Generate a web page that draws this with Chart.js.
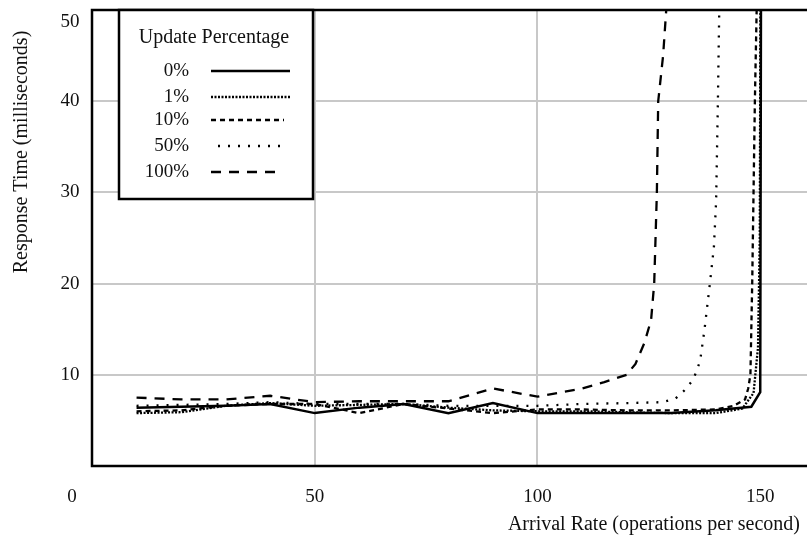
<!DOCTYPE html>
<html lang="en">
<head>
<meta charset="UTF-8">
<title>Response Time vs Arrival Rate</title>
<script src="https://cdn.jsdelivr.net/npm/chart.js"></script>
<style>
    body { margin: 0; background: #fff; }
    #wrap { width: 807px; height: 539px; position: relative; }
</style>
</head>
<body>
<div id="wrap"><canvas id="chart"></canvas></div>
<script>
    // values (x = arrival rate, y = response time)
    const seriesNames = ['0%', '1%', '10%', '50%', '100%'];

    const rate0 = [10, 20, 30, 40, 50, 60, 70, 80, 90, 100, 110, 120, 130, 140, 148, 150, 150.2];
    const resp0 = [6.4, 6.5, 6.6, 6.8, 5.8, 6.4, 6.8, 5.8, 6.9, 5.8, 5.8, 5.8, 5.8, 6.1, 6.5, 8.1, 60];

    const rate1 = [10, 20, 30, 40, 50, 60, 70, 80, 90, 100, 110, 120, 130, 140, 146, 148.5, 149.5, 149.9, 150.1];
    const resp1 = [5.8, 5.9, 6.6, 6.9, 6.6, 6.7, 6.8, 6.4, 6.1, 6.0, 6.0, 5.9, 5.8, 5.8, 6.3, 8, 13, 25, 60];

    const rate10 = [10, 20, 30, 40, 50, 60, 70, 80, 90, 100, 110, 120, 130, 140, 144, 146.6, 147.3, 147.8, 148.2, 148.5, 148.8, 149.2, 149.4];
    const resp10 = [6.0, 6.1, 6.6, 6.8, 6.8, 5.8, 6.8, 6.3, 5.8, 6.2, 6.2, 6.1, 6.1, 6.2, 6.6, 7.3, 8.5, 10, 20, 30, 40, 50, 55];

    const rate50 = [10, 20, 30, 40, 50, 60, 70, 80, 90, 100, 110, 120, 128, 131, 133, 135, 136.5, 137.5, 138.7, 139.6, 140.1, 140.5, 140.8, 141];
    const resp50 = [6.6, 6.7, 6.8, 7.0, 6.8, 6.8, 6.8, 6.6, 6.6, 6.6, 6.8, 6.9, 7.0, 7.4, 8.3, 9.5, 11.5, 15, 20, 24, 29, 40, 50, 55];

    const rate100 = [10, 20, 30, 40, 50, 60, 70, 80, 90, 100, 110, 115, 120, 122, 124, 125.5, 126.2, 126.8, 127.1, 128.2, 128.9, 129.3];
    const resp100 = [7.5, 7.3, 7.3, 7.7, 7.0, 7.1, 7.1, 7.1, 8.5, 7.6, 8.5, 9.2, 10, 11.2, 13.5, 16, 20, 30, 40, 45, 50, 55];

    const xTickValues = [0, 50, 100, 150];
    const yTickValues = [10, 20, 30, 40, 50];

    const rates = [rate0, rate1, rate10, rate50, rate100];
    const resps = [resp0, resp1, resp10, resp50, resp100];
    const dashes = [[], [2, 1.5], [5, 4], [2, 8], [10, 8]];

    const serif = '"Liberation Serif", "DejaVu Serif", serif';

    const datasets = seriesNames.map((name, i) => ({
        label: name,
        data: rates[i].map((x, j) => ({ x: x, y: resps[i][j] })),
        borderColor: '#000',
        borderWidth: i === 0 ? 2.5 : 2.3,
        borderDash: dashes[i],
        pointRadius: 0,
        tension: 0,
        fill: false
    }));

    // frame, tick labels, axis titles and the boxed legend
    const decorations = {
        id: 'decorations',
        afterDatasetsDraw(chart) {
            const ctx = chart.ctx;
            const area = chart.chartArea;
            const xs = chart.scales.x;
            const ys = chart.scales.y;
            ctx.save();

            // frame: left, top, bottom
            ctx.strokeStyle = '#000';
            ctx.lineWidth = 2.5;
            ctx.beginPath();
            ctx.moveTo(area.right + 2, area.top);
            ctx.lineTo(area.left, area.top);
            ctx.lineTo(area.left, area.bottom);
            ctx.lineTo(area.right + 2, area.bottom);
            ctx.stroke();

            // tick labels
            ctx.fillStyle = '#111';
            ctx.font = '19px ' + serif;
            ctx.textAlign = 'center';
            ctx.textBaseline = 'middle';
            xTickValues.forEach(v => {
                let px = xs.getPixelForValue(v);
                if (v === 0) px -= 20;
                ctx.fillText(String(v), px, area.bottom + 31);
            });
            yTickValues.forEach(v => {
                let py = ys.getPixelForValue(v);
                if (py < area.top + 12) py = area.top + 12;
                ctx.fillText(String(v), 70, py);
            });

            // axis titles
            ctx.font = '20px ' + serif;
            ctx.textAlign = 'right';
            ctx.fillText('Arrival Rate (operations per second)', 800, area.bottom + 59);
            ctx.save();
            ctx.translate(22, 152);
            ctx.rotate(-Math.PI / 2);
            ctx.textAlign = 'center';
            ctx.fillText('Response Time (milliseconds)', 0, 0);
            ctx.restore();

            // legend box
            const bx = 119, by = area.top, bw = 194, bh = 189;
            ctx.fillStyle = '#fff';
            ctx.fillRect(bx, by, bw, bh);
            ctx.lineWidth = 2.5;
            ctx.strokeRect(bx, by, bw, bh);
            ctx.fillStyle = '#111';
            ctx.font = '20px ' + serif;
            ctx.textAlign = 'center';
            ctx.fillText('Update Percentage', 214, 38);
            ctx.font = '19px ' + serif;
            const rows = [71, 97, 120, 146, 172];
            const lineEnds = [[211, 290], [211, 290], [211, 284], [218, 282], [211, 280]];
            chart.data.datasets.forEach((ds, i) => {
                ctx.textAlign = 'right';
                ctx.fillText(ds.label, 189, rows[i]);
                ctx.beginPath();
                ctx.setLineDash(ds.borderDash);
                ctx.lineWidth = ds.borderWidth;
                ctx.moveTo(lineEnds[i][0], rows[i]);
                ctx.lineTo(lineEnds[i][1], rows[i]);
                ctx.stroke();
                ctx.setLineDash([]);
            });
            ctx.restore();
        }
    };

    new Chart(document.getElementById('chart'), {
        type: 'line',
        data: { datasets: datasets },
        options: {
            responsive: true,
            maintainAspectRatio: false,
            animation: false,
            layout: { padding: { left: 92, top: 10, right: 0, bottom: 73 } },
            plugins: {
                legend: { display: false },
                tooltip: { enabled: false }
            },
            scales: {
                x: {
                    type: 'linear',
                    min: 0,
                    max: 160.5,
                    border: { display: false },
                    ticks: { display: false, stepSize: 50 },
                    grid: {
                        drawTicks: false,
                        lineWidth: 2,
                        color: c => (c.tick.value > 0 && c.tick.value < 160) ? '#c8c8c8' : 'rgba(0,0,0,0)'
                    }
                },
                y: {
                    min: 0,
                    max: 50,
                    border: { display: false },
                    ticks: { display: false, stepSize: 10 },
                    grid: {
                        drawTicks: false,
                        lineWidth: 2,
                        color: c => (c.tick.value > 0 && c.tick.value < 50) ? '#c8c8c8' : 'rgba(0,0,0,0)'
                    }
                }
            }
        },
        plugins: [decorations]
    });
</script>
</body>
</html>
